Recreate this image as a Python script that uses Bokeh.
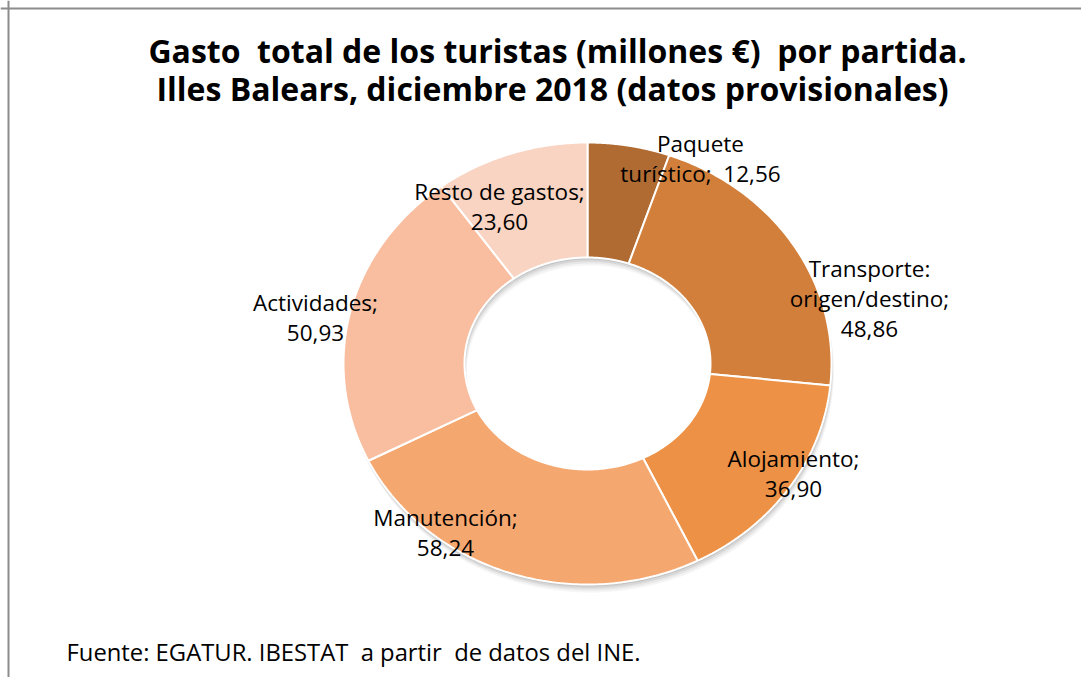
import numpy as np
from bokeh.plotting import figure
from bokeh.models import Range1d, ColumnDataSource, Span
from bokeh.embed import file_html
from bokeh.resources import INLINE
from bokeh.core.properties import value

# ---------------- data ----------------
categories = ["Paquete turístico", "Transporte: origen/destino", "Alojamiento",
              "Manutención", "Actividades", "Resto de gastos"]
values = [12.56, 48.86, 36.90, 58.24, 50.93, 23.60]
label_lines = [["Paquete", "turístico;\u00a0 {v}"],
               ["Transporte:", "origen/destino;", "{v}"],
               ["Alojamiento;", "{v}"],
               ["Manutención;", "{v}"],
               ["Actividades;", "{v}"],
               ["Resto de gastos;", "{v}"]]
title_lines = ["Gasto\u00a0 total de los turistas (millones €)\u00a0 por partida.",
               "Illes Balears, diciembre 2018 (datos provisionales)"]
source_text = "Fuente: EGATUR. IBESTAT\u00a0 a partir\u00a0 de datos del INE."

# ---------------- style / layout ----------------
colors = ["#B06B32", "#D27F3B", "#EC9145", "#F5A770", "#F8BE9F", "#F9D4C2"]
label_pos = [(700, 158), (869, 298), (793, 473), (445, 532), (315, 317), (499, 206)]
W, H = 1081, 677
CX, CY = 587, 363
RX, RY = 244, 221
IRX, IRY = 123, 106
FONT = "Open Sans"

p = figure(width=W, height=H, x_range=Range1d(0, W), y_range=Range1d(H, 0),
           output_backend="svg", toolbar_location=None, min_border=0)
p.axis.visible = False
p.grid.visible = False
p.outline_line_color = None
p.background_fill_color = "white"
p.border_fill_color = "white"

# wedge polygons from values
vals = np.array(values, dtype=float)
cum = np.concatenate([[0], np.cumsum(vals)]) / vals.sum() * 2 * np.pi
xs, ys = [], []
for i in range(len(vals)):
    t = np.linspace(cum[i], cum[i + 1], 120)
    ox = CX + RX * np.sin(t)
    oy = CY - RY * np.cos(t)
    ix = CX + IRX * np.sin(t[::-1])
    iy = CY - IRY * np.cos(t[::-1])
    xs.append(list(np.concatenate([ox, ix])))
    ys.append(list(np.concatenate([oy, iy])))

# soft shadow
for off, a in [(8, 0.04), (6, 0.05), (4, 0.07), (2, 0.09)]:
    p.patches(xs=[[x + off * 0.3 for x in xx] for xx in xs],
              ys=[[y + off for y in yy] for yy in ys],
              fill_color="#000000", fill_alpha=a, line_color=None)

src = ColumnDataSource(dict(xs=xs, ys=ys, color=colors, cat=categories))
p.patches(xs="xs", ys="ys", fill_color="color", line_color="white",
          line_width=2, source=src)

# labels
lx, ly, lt = [], [], []
LH = 30
for i, lines in enumerate(label_lines):
    vtxt = f"{values[i]:.2f}".replace(".", ",")
    n = len(lines)
    bx, by = label_pos[i]
    for j, ln in enumerate(lines):
        lx.append(bx)
        ly.append(by + (j - (n - 1) / 2) * LH)
        lt.append(ln.format(v=vtxt))
p.text(x=lx, y=ly, text=lt, text_font=value(FONT), text_font_size="22.5px",
       text_color="#000000", text_align="center", text_baseline="middle")

# title
p.text(x=[557, 552], y=[50, 88], text=title_lines, text_font=value(FONT),
       text_font_style="bold", text_font_size="32px", text_color="#000000",
       text_align="center", text_baseline="middle")

# source
p.text(x=[66], y=[651], text=[source_text], text_font=value(FONT),
       text_font_size="23.8px", text_color="#000000", text_align="left",
       text_baseline="middle")

# chart border (left and top visible)
p.add_layout(Span(location=8, dimension="height", line_color="#8C8C8C", line_width=2))
p.add_layout(Span(location=8, dimension="width", line_color="#8C8C8C", line_width=2))

open("out.html", "w").write(file_html(p, INLINE))
